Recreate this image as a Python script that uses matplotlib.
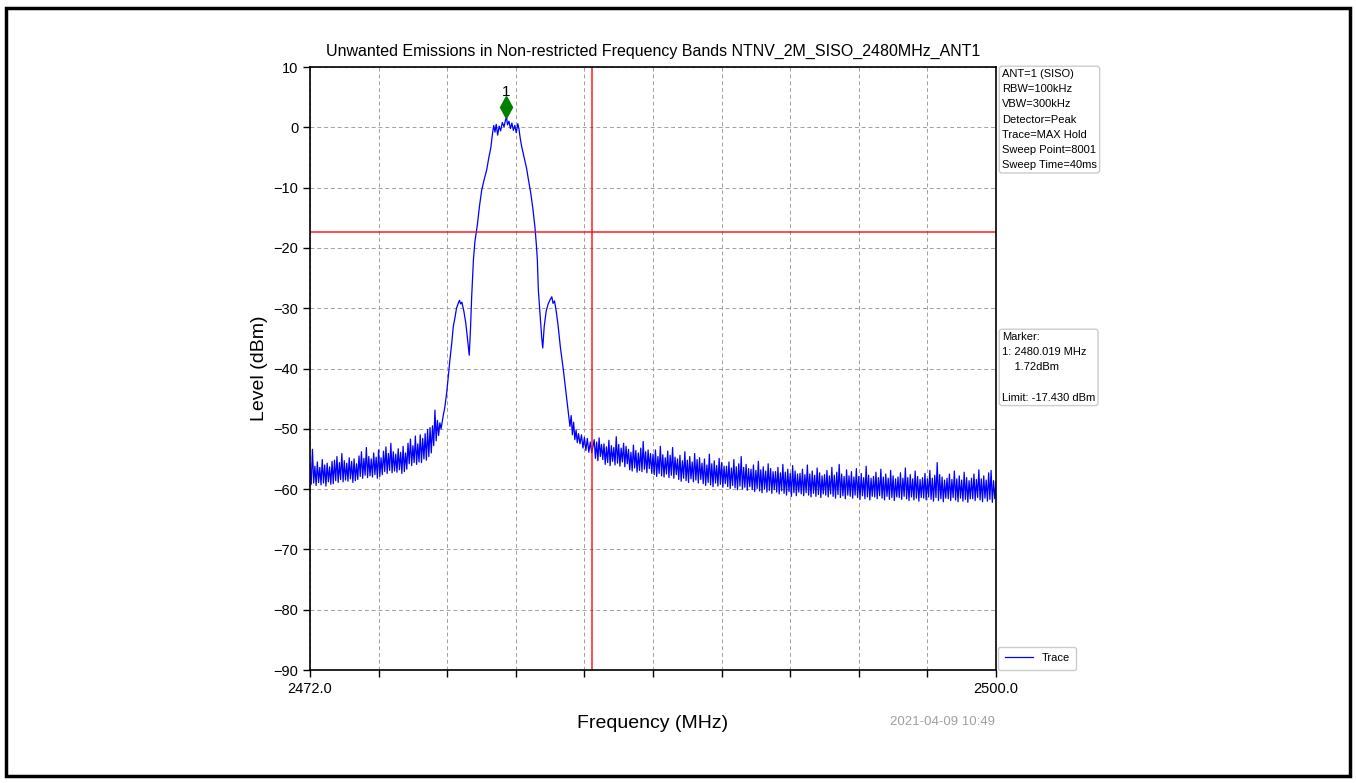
"""Plot unwanted emissions spectrum, NTNV 2M SISO 2480 MHz ANT1."""

import numpy as np
import matplotlib.pyplot as plt
from matplotlib.patches import Rectangle
from matplotlib.transforms import offset_copy

plt.rcParams['font.family'] = ['Liberation Sans', 'DejaVu Sans']

# left noise floor, 2472.0 - 2477.3 MHz every 0.05 MHz
left_level = [
    -55.8, -59.2, -53.4, -59.0, -56.2, -59.4, -55.5, -58.9, -56.4, -59.3,
    -55.1, -59.0, -56.0, -59.5, -55.7, -58.8, -56.3, -59.2, -55.4, -59.1,
    -55.2, -58.6, -54.6, -58.9, -55.6, -58.4, -54.1, -58.8, -55.3, -58.5,
    -55.7, -58.7, -54.8, -58.3, -55.4, -58.9, -55.0, -58.6, -55.8, -58.4,
    -54.5, -57.9, -53.8, -58.2, -54.9, -57.7, -53.1, -58.1, -54.6, -57.8,
    -55.0, -58.0, -54.0, -57.6, -54.7, -58.2, -53.5, -57.9, -54.8, -57.6,
    -53.7, -57.1, -53.0, -57.4, -54.1, -56.9, -52.4, -57.3, -53.8, -57.0,
    -54.2, -57.2, -53.3, -56.8, -53.9, -57.4, -52.9, -57.1, -54.0, -56.7,
    -52.4, -55.8, -51.7, -56.1, -52.8, -55.6, -51.2, -55.9, -52.5, -55.5,
    -51.0, -55.6, -51.6, -55.0, -50.8, -55.2, -50.1, -54.6, -49.8, -54.0,
    -49.5, -52.8, -46.9, -52.0, -48.6, -51.1, -49.0]

# emission peak
peak_freq = [
    2477.35, 2477.43, 2477.50, 2477.58, 2477.64, 2477.71, 2477.78, 2477.85,
    2477.92, 2477.98, 2478.05, 2478.10, 2478.15, 2478.20, 2478.28, 2478.36,
    2478.44, 2478.50, 2478.55, 2478.60, 2478.67, 2478.73, 2478.83, 2478.92,
    2479.01, 2479.10, 2479.21, 2479.30, 2479.38, 2479.45, 2479.50, 2479.55,
    2479.60, 2479.66, 2479.72, 2479.78, 2479.85, 2479.92, 2479.98, 2480.02,
    2480.06, 2480.12, 2480.18, 2480.24, 2480.30, 2480.36, 2480.42, 2480.48,
    2480.53, 2480.58, 2480.64, 2480.74, 2480.84, 2480.92, 2481.01, 2481.10,
    2481.18, 2481.24, 2481.28, 2481.32, 2481.40, 2481.46, 2481.50, 2481.56,
    2481.64, 2481.72, 2481.80, 2481.87, 2481.92, 2481.98, 2482.05, 2482.13,
    2482.22, 2482.34, 2482.42, 2482.48, 2482.55, 2482.61, 2482.66, 2482.71,
    2482.76, 2482.81, 2482.86, 2482.91, 2482.96, 2483.02, 2483.08, 2483.14,
    2483.20, 2483.26, 2483.32, 2483.38, 2483.44, 2483.50]
peak_level = [
    -50.0, -48.0, -46.5, -44.0, -41.5, -38.6, -36.0, -33.0,
    -31.5, -30.0, -29.2, -28.7, -29.3, -29.0, -30.5, -32.5,
    -35.5, -37.8, -33.5, -28.0, -22.0, -19.0, -16.2, -13.0,
    -10.4, -8.8, -7.1, -5.0, -3.4, -1.0, 0.3, -0.8,
    0.5, -1.3, 0.2, -0.6, 0.8, 0.1, 1.2, 1.72,
    0.4, 1.0, -0.2, 0.7, -0.5, 0.3, -0.9, 0.6,
    -0.3, -1.8, -3.2, -5.0, -6.8, -8.8, -10.9, -13.6,
    -16.5, -19.5, -22.0, -27.0, -31.5, -35.0, -36.6, -33.0,
    -30.5, -29.3, -28.6, -28.1, -29.2, -28.8, -30.5, -33.0,
    -36.5, -40.2, -43.0, -45.2, -47.5, -49.6, -47.8, -51.0,
    -48.9, -51.8, -50.2, -52.3, -50.8, -52.5, -51.0, -53.2,
    -51.4, -53.6, -51.6, -53.9, -52.2, -54.0]

# right noise floor, 2483.6 - 2500.0 MHz every 0.05 MHz
right_level = [
    -51.8, -54.9, -52.2, -55.3, -51.5, -54.6, -52.6, -55.1,
    -52.5, -55.9, -53.0, -55.6, -51.9, -56.1, -52.8, -55.4, -53.1, -56.0,
    -51.3, -55.7, -52.6, -56.2, -53.2, -55.5, -52.4, -56.3, -52.9, -55.8,
    -53.4, -56.8, -53.9, -57.0, -52.7, -56.5, -53.6, -57.2, -54.0, -56.9,
    -53.2, -57.1, -52.1, -56.7, -53.8, -57.3, -53.5, -56.6, -54.1, -57.4,
    -54.2, -57.6, -53.5, -57.9, -54.6, -57.4, -52.9, -57.8, -54.3, -58.0,
    -54.8, -57.5, -53.7, -58.1, -54.4, -57.7, -53.1, -58.2, -54.7, -57.6,
    -55.0, -58.4, -54.4, -58.7, -55.3, -58.2, -53.8, -58.6, -55.2, -58.9,
    -54.6, -58.3, -55.5, -58.8, -54.1, -58.5, -55.1, -59.0, -54.8, -58.4,
    -55.7, -59.1, -55.0, -59.4, -56.0, -58.9, -54.2, -59.3, -55.8, -59.6,
    -55.3, -59.0, -56.1, -59.5, -54.9, -59.2, -55.6, -59.7, -56.2, -59.1,
    -56.2, -59.6, -55.5, -59.9, -56.5, -59.4, -55.1, -59.8, -56.3, -60.1,
    -55.8, -59.5, -54.6, -60.0, -56.4, -59.7, -55.9, -60.2, -56.6, -59.6,
    -56.7, -60.1, -56.0, -60.4, -56.9, -59.9, -55.4, -60.3, -56.8, -60.6,
    -56.3, -60.0, -57.0, -60.5, -55.8, -60.2, -56.6, -60.7, -57.1, -60.1,
    -57.1, -60.5, -56.4, -60.8, -57.3, -60.3, -55.9, -60.7, -57.2, -61.0,
    -56.7, -60.4, -57.4, -61.2, -56.1, -60.6, -57.0, -61.1, -57.5, -60.5,
    -57.4, -60.8, -56.7, -61.1, -57.6, -60.6, -56.0, -61.0, -57.5, -61.3,
    -57.0, -60.7, -57.7, -61.2, -56.5, -60.9, -57.3, -61.4, -57.8, -60.8,
    -57.6, -61.0, -56.9, -61.3, -57.8, -60.8, -56.4, -61.2, -57.7, -61.5,
    -57.2, -60.9, -55.9, -61.4, -57.5, -61.1, -57.9, -61.6, -56.8, -61.0,
    -57.8, -61.2, -57.1, -61.5, -58.0, -61.0, -56.6, -61.4, -57.9, -61.7,
    -57.4, -61.1, -58.1, -61.6, -56.2, -61.3, -57.7, -61.8, -58.2, -61.2,
    -57.9, -61.3, -57.2, -61.6, -58.1, -61.1, -56.7, -61.5, -58.0, -61.8,
    -57.5, -61.2, -58.2, -61.7, -56.9, -61.4, -57.8, -61.9, -58.3, -61.3,
    -58.0, -61.4, -57.3, -61.7, -58.2, -61.2, -56.5, -61.6, -58.1, -61.9,
    -57.6, -61.3, -58.3, -61.8, -57.0, -61.5, -57.9, -62.0, -58.4, -61.4,
    -58.1, -61.5, -57.4, -61.8, -58.3, -61.3, -56.9, -61.7, -58.2, -62.0,
    -57.7, -61.4, -55.6, -61.9, -57.6, -61.6, -58.0, -62.1, -58.5, -61.5,
    -58.2, -61.6, -57.5, -61.9, -58.4, -61.4, -57.0, -61.8, -58.3, -62.1,
    -57.8, -61.5, -58.5, -62.0, -57.2, -61.7, -58.1, -62.2, -58.6, -61.6,
    -58.2, -61.6, -57.5, -61.9, -58.4, -61.4, -56.8, -61.8, -58.3, -62.1,
    -57.8, -61.5, -58.5, -62.0, -57.3, -61.7, -56.9, -62.2, -58.6, -61.6,
    -58.8]

f_start, f_stop = 2472.0, 2500.0
limit = -17.430
restricted_edge = 2483.5
marker_freq, marker_level = 2480.019, 1.72
yticks = list(range(-90, 11, 10))

settings = ['ANT=1 (SISO)', 'RBW=100kHz', 'VBW=300kHz', 'Detector=Peak',
            'Trace=MAX Hold', 'Sweep Point=8001', 'Sweep Time=40ms']
timestamp = '2021-04-09 10:49'


def main():
    """Main program called during execution."""

    # assemble trace
    freq = np.concatenate([
        np.linspace(2472.0, 2477.3, len(left_level)), peak_freq,
        np.linspace(2483.6, 2500.0, len(right_level))])
    level = np.concatenate([left_level, peak_level, right_level])

    # initialize figure
    fig = plt.figure(figsize=(13.56, 7.83), dpi=100)
    ax = fig.add_axes([310/1356, 1-670/783, 686/1356, 603/783])
    fig.patches.append(Rectangle(
        (6/1356, 7/783), 1344/1356, 768/783, transform=fig.transFigure,
        fill=False, ec='black', lw=2.5))

    # plot trace, limit and band edge
    ax.plot(freq, level, color='blue', lw=0.9, label='Trace')
    ax.axhline(limit, color='red', lw=1.3, alpha=0.75)
    ax.axvline(restricted_edge, color='red', lw=1.3, alpha=0.75)

    # mark peak
    ax.plot(marker_freq, marker_level, marker='d', ms=11, color='green',
            ls='none', transform=offset_copy(
                ax.transData, fig=fig, y=7, units='points'))
    ax.annotate('1', (marker_freq, marker_level), xytext=(0, 13),
                textcoords='offset points', ha='center', va='bottom',
                fontsize=11)

    # set axes properties
    xticks = np.linspace(f_start, f_stop, 11)
    ax.set_xlim(f_start, f_stop)
    ax.set_ylim(-90, 10)
    ax.set_xticks(xticks)
    ax.set_xticklabels(['%.1f' % t if t in (f_start, f_stop) else ''
                        for t in xticks])
    ax.set_yticks(yticks)
    ax.tick_params(labelsize=10.5, length=5, width=1)
    ax.grid(True, ls=(0, (4, 3)), color='#a0a0a0', lw=0.7)
    for spine in ax.spines.values():
        spine.set_linewidth(1.2)
    ax.set_title('Unwanted Emissions in Non-restricted Frequency Bands '
                 'NTNV_2M_SISO_2480MHz_ANT1', fontsize=11.5, pad=8)
    ax.set_xlabel('Frequency (MHz)', fontsize=14, labelpad=14)
    ax.set_ylabel('Level (dBm)', fontsize=14, labelpad=4)

    # side annotations
    box = dict(boxstyle='round,pad=0.25', fc='white', ec='#cccccc', lw=1)
    fig.text(1002/1356, 1-69/783, '\n'.join(settings), fontsize=8,
             va='top', ha='left', linespacing=1.65, bbox=box)
    fig.text(1002/1356, 1-332/783,
             'Marker:\n1: %.3f MHz\n    %.2fdBm\n\nLimit: %.3f dBm'
             % (marker_freq, marker_level, limit), fontsize=8,
             va='top', ha='left', linespacing=1.65, bbox=box)
    ax.legend(loc='lower left', bbox_to_anchor=(1.003, 0.0), fontsize=8,
              handlelength=2.5, borderaxespad=0, borderpad=0.6,
              fancybox=True, edgecolor='#cccccc', framealpha=1)
    fig.text(995/1356, 1-722/783, timestamp, fontsize=9.5, color='#a0a0a0',
             ha='right', va='center')

    # save figure
    fig.savefig('out.png', dpi=100)


if __name__ == '__main__':
    main()
